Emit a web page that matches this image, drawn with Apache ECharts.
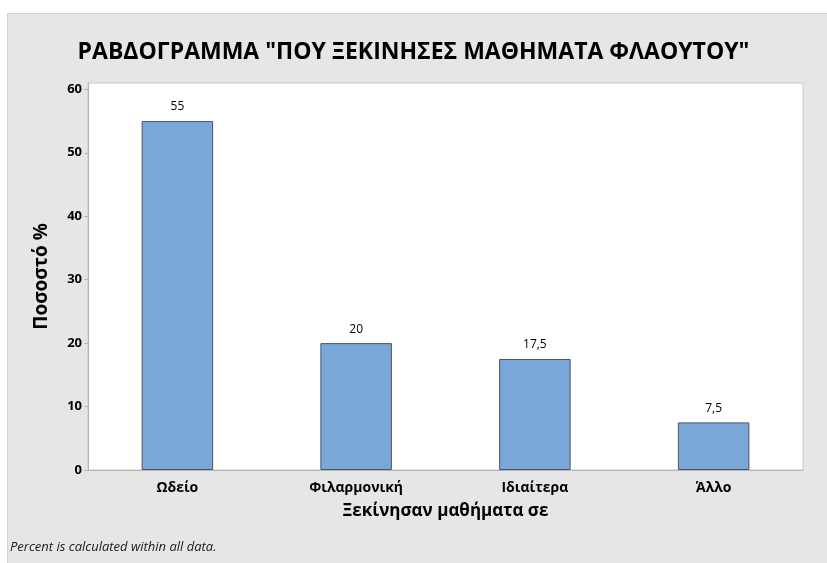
<!DOCTYPE html>
<html>
<head>
<meta charset="utf-8">
<script src="https://cdn.jsdelivr.net/npm/echarts@6/dist/echarts.min.js"></script>
<style>
  html, body { margin: 0; padding: 0; background: #fff; }
  #chart { width: 827px; height: 563px; }
</style>
</head>
<body>
<div id="chart"></div>
<script>
const categories = ['Ωδείο', 'Φιλαρμονική', 'Ιδιαίτερα', 'Άλλο'];
const percents = [55, 20, 17.5, 7.5];
const yTicks = [0, 10, 20, 30, 40, 50, 60];

const FONT = '"Open Sans", "Noto Sans", sans-serif';

const chart = echarts.init(document.getElementById('chart'), null, { renderer: 'canvas' });

chart.setOption({
  backgroundColor: '#ffffff',
  animation: false,
  graphic: [
    {
      type: 'rect',
      z: -10,
      shape: { x: 7.5, y: 13.5, width: 830, height: 560 },
      style: { fill: '#e6e6e6', stroke: '#d2d2d2', lineWidth: 1 }
    },
    {
      type: 'text',
      left: 10,
      top: 541,
      style: {
        text: 'Percent is calculated within all data.',
        font: 'italic 13px ' + FONT,
        fill: '#1a1a1a'
      }
    }
  ],
  title: {
    text: 'ΡΑΒΔΟΓΡΑΜΜΑ "ΠΟΥ ΞΕΚΙΝΗΣΕΣ ΜΑΘΗΜΑΤΑ ΦΛΑΟΥΤΟΥ"',
    left: 'center',
    top: 36,
    textStyle: { fontFamily: FONT, fontSize: 23, fontWeight: 'bold', color: '#000' }
  },
  grid: {
    left: 88,
    right: 24,
    top: 83,
    bottom: 93,
    show: true,
    backgroundColor: '#ffffff',
    borderColor: '#c8c8c8',
    borderWidth: 1
  },
  xAxis: {
    type: 'category',
    data: categories,
    name: 'Ξεκίνησαν μαθήματα σε',
    nameLocation: 'middle',
    nameGap: 33,
    nameTextStyle: { fontFamily: FONT, fontSize: 17, fontWeight: 'bold', color: '#000' },
    axisLine: { lineStyle: { color: '#b4b4b4' } },
    axisTick: { alignWithLabel: true, length: 5, lineStyle: { color: '#b4b4b4' } },
    axisLabel: { fontFamily: FONT, fontSize: 14, fontWeight: 'bold', color: '#000', margin: 11 }
  },
  yAxis: {
    type: 'value',
    min: 0,
    max: 61,
    interval: 10,
    name: 'Ποσοστό %',
    nameLocation: 'middle',
    nameGap: 37,
    nameTextStyle: { fontFamily: FONT, fontSize: 19, fontWeight: 'bold', color: '#000' },
    splitLine: { show: false },
    axisLine: { show: true, lineStyle: { color: '#b4b4b4' } },
    axisTick: { show: true, length: 4, customValues: yTicks, lineStyle: { color: '#b4b4b4' } },
    axisLabel: {
      customValues: yTicks,
      fontFamily: FONT, fontSize: 13, fontWeight: 'bold', color: '#000', margin: 6
    }
  },
  series: [
    {
      type: 'bar',
      data: percents,
      barWidth: '40%',
      itemStyle: { color: '#7ba7d8', borderColor: '#4b5563', borderWidth: 1 },
      label: {
        show: true,
        position: 'top',
        distance: 8,
        fontFamily: FONT,
        fontSize: 12,
        color: '#000',
        formatter: p => String(p.value).replace('.', ',')
      }
    }
  ]
});
</script>
</body>
</html>
